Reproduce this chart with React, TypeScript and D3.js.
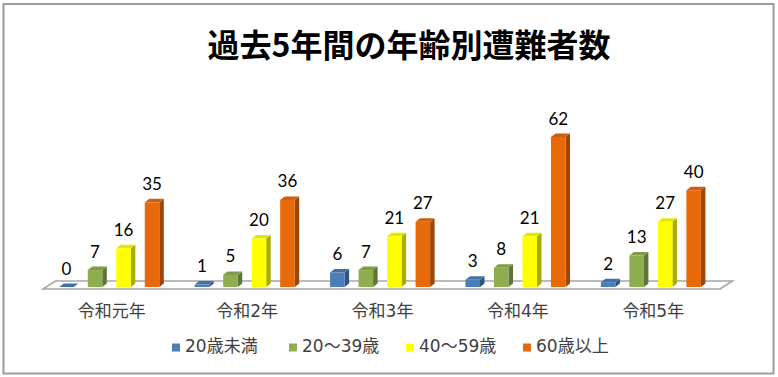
import React from "react";
import * as d3 from "d3";

const title = "過去5年間の年齢別遭難者数";
const categories = ["令和元年", "令和2年", "令和3年", "令和4年", "令和5年"];
const seriesNames = ["20歳未満", "20～39歳", "40～59歳", "60歳以上"];
const under20 = [0, 1, 6, 3, 2];
const age20to39 = [7, 5, 7, 8, 13];
const age40to59 = [16, 20, 21, 21, 27];
const age60plus = [35, 36, 27, 62, 40];
const seriesValues = [under20, age20to39, age40to59, age60plus];
const seriesColors = ["#4A7DBA", "#8DAD4E", "#FFFF00", "#E8690A"];

const W = 778;
const H = 377;
const BAR_DX = 4.5;
const BAR_DY = 3.5;
const FLOOR_DX = 12.5;
const FLOOR_DY = 8;
const LABEL_FONT = "'DejaVu Sans', 'Noto Sans CJK JP', sans-serif";

export default function App() {
  const x0 = d3.scaleBand<string>().domain(categories).range([43, 720]).padding(0);
  const x1 = d3
    .scaleBand<number>()
    .domain(d3.range(seriesNames.length))
    .range([0, x0.bandwidth()])
    .paddingInner(0.49)
    .paddingOuter(0.62)
    .align(0.46);
  const y = d3.scaleLinear().domain([0, 62]).range([287, 137]);
  const base = y(0);
  const floorFront = base + 2;
  const [fx0, fx1] = x0.range();

  const legendX = d3.scaleLinear().domain([0, 1]).range([172, 289]);

  const bars: React.ReactNode[] = [];
  categories.forEach((cat, ci) => {
    seriesValues.forEach((vals, si) => {
      const v = vals[ci];
      const xl = (x0(cat) as number) + (x1(si) as number);
      const w = x1.bandwidth();
      const yt = y(v);
      const col = d3.color(seriesColors[si])!;
      const side = col.darker(1.1).formatHex();
      const top = col.darker(0.3).formatHex();
      bars.push(
        <g key={`${ci}-${si}`}>
          <polygon
            points={`${xl + w},${base} ${xl + w + BAR_DX},${base - BAR_DY} ${xl + w + BAR_DX},${yt - BAR_DY} ${xl + w},${yt}`}
            fill={side}
          />
          <polygon
            points={`${xl},${yt} ${xl + BAR_DX},${yt - BAR_DY} ${xl + w + BAR_DX},${yt - BAR_DY} ${xl + w},${yt}`}
            fill={top}
          />
          <rect x={xl} y={yt} width={w} height={base - yt} fill={seriesColors[si]} />
          <text
            x={xl + w / 2}
            y={yt - 12.5}
            textAnchor="middle"
            fontFamily="Lato, 'Open Sans', sans-serif"
            fontSize={17}
            fill="#000"
          >
            {v}
          </text>
        </g>
      );
    });
  });

  return (
    <svg
      width={W}
      height={H}
      style={{ position: "absolute", left: 0, top: 0, display: "block", background: "#fff" }}
    >
      <rect x={0} y={0} width={W} height={H} fill="#fff" />
      <rect x={3.5} y={4} width={770} height={369.5} fill="#fff" stroke="#9c9c9c" strokeWidth={2} />
      <text
        x={409}
        y={57}
        textAnchor="middle"
        fontFamily="'Noto Sans CJK JP', sans-serif"
        fontWeight="bold"
        fontSize={32}
        fill="#000"
      >
        {title}
      </text>
      <polygon
        points={`${fx0},${floorFront} ${fx1},${floorFront} ${fx1 + FLOOR_DX},${floorFront - FLOOR_DY} ${fx0 + FLOOR_DX},${floorFront - FLOOR_DY}`}
        fill="#fff"
        stroke="#a6a6a6"
        strokeWidth={1.6}
      />
      {bars}
      {categories.map((c) => (
        <text
          key={c}
          x={(x0(c) as number) + x0.bandwidth() / 2 + 1}
          y={317}
          textAnchor="middle"
          fontFamily={LABEL_FONT}
          fontSize={17}
          fill="#404040"
        >
          {c}
        </text>
      ))}
      {seriesNames.map((s, i) => (
        <g key={s}>
          <rect x={legendX(i)} y={343.5} width={8} height={8} fill={seriesColors[i]} />
          <text x={legendX(i) + 13} y={352} fontFamily={LABEL_FONT} fontSize={17} fill="#404040">
            {s}
          </text>
        </g>
      ))}
    </svg>
  );
}
